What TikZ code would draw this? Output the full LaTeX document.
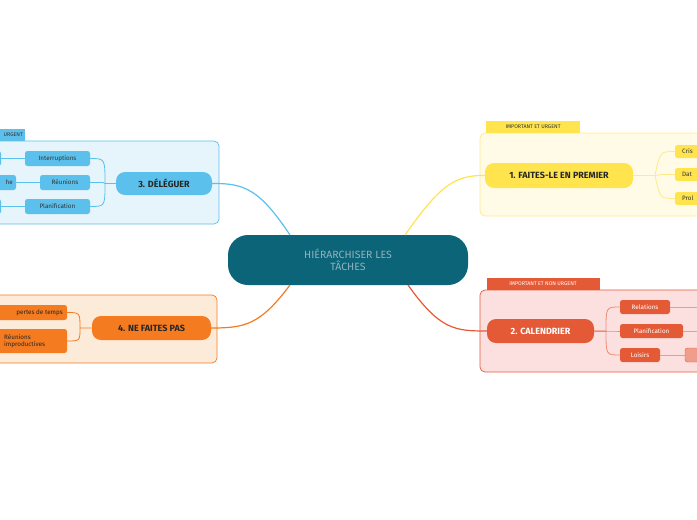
\documentclass[tikz,border=0pt]{standalone}
\usepackage{fontspec}
\setmainfont{Fira Sans}
\begin{document}
\begin{tikzpicture}[x=1pt,y=-1pt,
 box/.style={rounded corners=5pt,line width=0.7pt},
 tag/.style={inner sep=0pt,font=\fontsize{5.3}{6}\selectfont},
 main/.style={rounded corners=9pt,font=\bfseries\fontsize{9}{10}\selectfont,inner sep=0pt},
 sub/.style={rounded corners=2.5pt,font=\fontsize{6.3}{7.3}\selectfont,inner sep=0pt,align=center}]
\useasboundingbox (0,0) rectangle (697,520);
\clip (0,0) rectangle (697,520);
\definecolor{ybg}{HTML}{FFFBE6}\definecolor{ybd}{HTML}{FFE98A}\definecolor{yel}{HTML}{FFE44D}
\definecolor{rbg}{HTML}{FCE0E0}\definecolor{red}{HTML}{E55A36}
\definecolor{bbg}{HTML}{E6F4FB}\definecolor{blu}{HTML}{5BC0EB}
\definecolor{obg}{HTML}{FDEBD9}\definecolor{ora}{HTML}{F47B20}
\definecolor{cen}{HTML}{0B6478}\definecolor{ctx}{HTML}{8FB3C0}
% group boxes
\draw[box,fill=ybg,draw=ybd] (480,133) rectangle (710,216);
\fill[yel] (486,121) rectangle (580,133); \node[tag,text=black!80] (t1) at (533,127) {IMPORTANT ET URGENT};
\draw[box,fill=rbg,draw=red] (480,290) rectangle (710,372);
\fill[red] (487,278) rectangle (600,290); \node[tag,text=white] (t2) at (543,284) {IMPORTANT ET NON URGENT};
\draw[box,fill=bbg,draw=blu] (-20,141) rectangle (219,224);
\fill[blu] (-10,129) rectangle (25,141); \node[tag,text=black!80,anchor=east] (t3) at (23,135) {URGENT};
\draw[box,fill=obg,draw=ora] (-20,295) rectangle (217,363);
% central
\path[fill=cen,rounded corners=20pt] (228,235) rectangle (468,285);
\node[font=\fontsize{10.5}{12.5}\selectfont,text=ctx,align=center] (c) at (348,260) {HIÉRARCHISER LES\\TÂCHES};
% main nodes
\path[fill=yel,rounded corners=9pt] (485,163) rectangle (633,188); \node[main,text=black!85] (m1) at (559,175.5) {1. FAITES-LE EN PREMIER};
\path[fill=red,rounded corners=9pt] (487,319) rectangle (594,343); \node[main,text=white] (m2) at (540.5,331) {2. CALENDRIER};
\path[fill=blu,rounded corners=9pt] (116,172) rectangle (212,195); \node[main,text=black!85] (m3) at (164,183.5) {3. DÉLÉGUER};
\path[fill=ora,rounded corners=9pt] (92,316) rectangle (211,340); \node[main,text=black!85] (m4) at (151.5,328) {4. NE FAITES PAS};
% connectors central-main
\draw[yel,line width=1.2pt] (405,235) .. controls (440,185) and (455,175) .. (485,175.5);
\draw[red,line width=1.2pt] (408,285) .. controls (440,330) and (455,331) .. (487,331);
\draw[blu,line width=1.2pt] (290,235) .. controls (260,190) and (245,183) .. (212,183.5);
\draw[ora,line width=1.2pt] (290,285) .. controls (260,325) and (245,328) .. (211,328);
% yellow children
\foreach \y/\t in {151.5/Cris,174.5/Dat,198.5/Prol}{
 \path[fill=yel,rounded corners=2.5pt] (675,\y-6.5) rectangle (720,\y+6.5);
 \node[sub,anchor=west,text=black!80] at (682,\y) {\t};
 \draw[ybd,line width=0.8pt] (633,175.5) -- (655,175.5) (655,175.5) .. controls (660,\y) .. (675,\y);}
% red children
\foreach \y/\t/\w in {307/Relations/50,331/Planification/63,355/Loisirs/40}{
 \path[fill=red,rounded corners=2.5pt] (620,\y-7) rectangle (620+\w,\y+7);
 \node[sub,text=white] at (620+\w/2,\y) {\t};
 \draw[red!70,line width=0.8pt] (594,331) -- (606,331) (606,331) .. controls (606,\y) .. (620,\y);}
\draw[red!60,line width=0.8pt] (670,307) -- (697,307) (683,331) -- (697,331) (660,355) -- (685,355);
\path[fill=red,rounded corners=2.5pt] (697,300) rectangle (710,314);
\draw[red,fill=rbg!50!red,rounded corners=2.5pt] (685,348) rectangle (710,362);
% blue children
\foreach \y/\t/\x in {158.5/Interruptions/25,182.5/Réunions/40,206.5/Planification/25}{
 \path[fill=blu,rounded corners=2.5pt] (\x,\y-7.5) rectangle (90,\y+7.5);
 \node[sub,text=black!80] at ({(\x+90)/2},\y) {\t};
 \draw[blu,line width=0.8pt] (116,183.5) -- (105,183.5) (105,183.5) .. controls (105,\y) .. (90,\y);}
\draw[blu,line width=0.8pt] (25,158.5) -- (0,158.5) (40,182.5) -- (16,182.5) (25,206.5) -- (0,206.5);
\path[fill=blu,rounded corners=2.5pt] (-20,151) rectangle (1,166);
\path[fill=blu,rounded corners=2.5pt] (-20,175) rectangle (16,190); \node[sub,anchor=east,text=black!80] at (13,182.5) {he};
\path[fill=blu,rounded corners=2.5pt] (-20,199) rectangle (1,214);
% orange children
\path[fill=ora,rounded corners=2.5pt] (-20,305) rectangle (67,320); \node[sub,anchor=east,text=black!85] at (63,312.5) {pertes de temps};
\path[fill=ora,rounded corners=2.5pt] (-20,329) rectangle (67,353); \node[sub,anchor=west,text=black!85,align=left] at (4,341) {Réunions\\improductives};
\draw[ora,line width=0.8pt] (92,328) -- (80,328) (80,328) .. controls (80,312.5) .. (67,312.5) (80,328) .. controls (80,341) .. (67,341);
\end{tikzpicture}
\end{document}
